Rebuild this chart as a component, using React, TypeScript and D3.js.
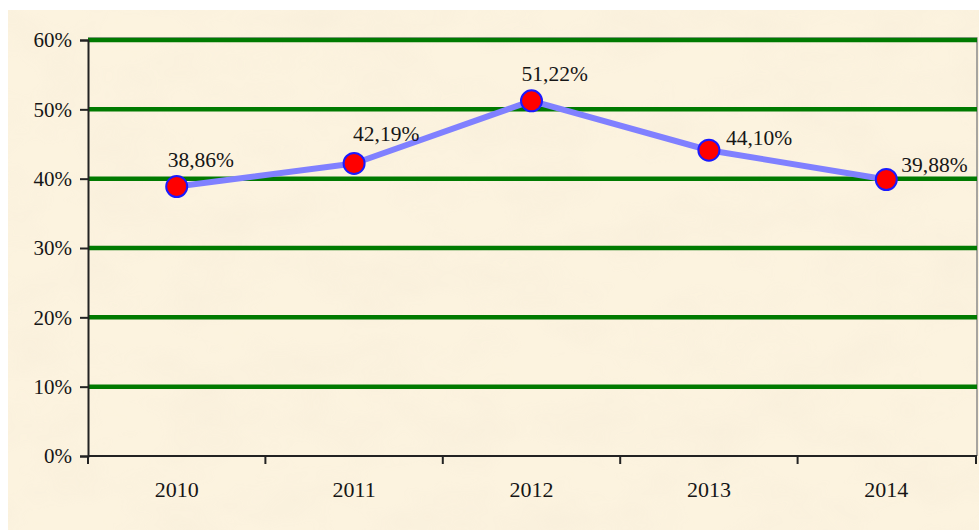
import React, { useRef, useEffect } from 'react';
import * as d3 from 'd3';

// chart data
const years = ['2010', '2011', '2012', '2013', '2014'];
const shares = [38.86, 42.19, 51.22, 44.10, 39.88];
const yTicks = [0, 10, 20, 30, 40, 50, 60];

// label placement relative to each marker (layout only)
const labelOffsets: [number, number][] = [
  [-9, -20],
  [-1, -22],
  [-10, -20],
  [17, -5],
  [15, -7],
];

const W = 979;
const H = 530;
const FONT = '"Liberation Serif", "Times New Roman", serif';

function App() {
  const svgRef = useRef<SVGSVGElement | null>(null);

  useEffect(() => {
    document.body.style.margin = '0';
    const root = d3.select(svgRef.current);
    root.selectAll('*').remove();

    const margin = { top: 40, right: 4, bottom: 74, left: 88 };
    const left = margin.left;
    const right = W - margin.right;
    const top = margin.top;
    const bottom = H - margin.bottom;

    const x = d3.scaleBand<string>().domain(years).range([left, right]).padding(0);
    const y = d3.scaleLinear().domain([0, 60]).range([bottom, top]);

    // parchment background
    const defs = root.append('defs');
    const filt = defs.append('filter').attr('id', 'paper')
      .attr('x', 0).attr('y', 0).attr('width', '100%').attr('height', '100%');
    filt.append('feTurbulence')
      .attr('type', 'fractalNoise')
      .attr('baseFrequency', '0.012 0.02')
      .attr('numOctaves', 3)
      .attr('seed', 7)
      .attr('result', 'noise');
    filt.append('feColorMatrix')
      .attr('in', 'noise')
      .attr('type', 'matrix')
      .attr('values', '0 0 0 0 0.93  0 0 0 0 0.85  0 0 0 0 0.70  0 0 0 -1.8 1.15');

    root.append('rect')
      .attr('x', 8).attr('y', 10)
      .attr('width', W - 8).attr('height', H - 10)
      .attr('fill', '#fcf3df');
    root.append('rect')
      .attr('x', 8).attr('y', 10)
      .attr('width', W - 8).attr('height', H - 10)
      .attr('filter', 'url(#paper)')
      .attr('opacity', 0.6);

    // plot border (top and right)
    root.append('path')
      .attr('d', `M${left},${top - 2}H${right + 2}V${bottom}`)
      .attr('fill', 'none')
      .attr('stroke', '#8a8a8a')
      .attr('stroke-width', 1.5);

    // gridlines
    root.append('g')
      .selectAll('line')
      .data(yTicks.filter(t => t > 0))
      .enter()
      .append('line')
      .attr('x1', left)
      .attr('x2', right + 2)
      .attr('y1', d => y(d))
      .attr('y2', d => y(d))
      .attr('stroke', '#007a00')
      .attr('stroke-width', 4.5);

    // y axis
    const yAxis = root.append('g')
      .attr('transform', `translate(${left},0)`)
      .call(d3.axisLeft(y).tickValues(yTicks).tickSize(8).tickPadding(8).tickFormat(d => `${d}%`));
    yAxis.select('.domain').attr('stroke', '#222').attr('stroke-width', 2);
    yAxis.selectAll('.tick line').attr('stroke', '#222').attr('stroke-width', 2);
    yAxis.selectAll('.tick text')
      .attr('fill', '#161616')
      .style('font-family', FONT)
      .style('font-size', '21px');

    // x axis, ticks at category boundaries
    const xAxisG = root.append('g');
    xAxisG.append('line')
      .attr('x1', left).attr('x2', right + 2)
      .attr('y1', bottom).attr('y2', bottom)
      .attr('stroke', '#222').attr('stroke-width', 2);
    const bounds = years.map(yr => x(yr) as number).concat([right + 1]);
    xAxisG.selectAll('.xtick')
      .data(bounds)
      .enter()
      .append('line')
      .attr('class', 'xtick')
      .attr('x1', d => d).attr('x2', d => d)
      .attr('y1', bottom).attr('y2', bottom + 8)
      .attr('stroke', '#222').attr('stroke-width', 2);
    xAxisG.selectAll('.xlabel')
      .data(years)
      .enter()
      .append('text')
      .attr('class', 'xlabel')
      .attr('x', d => (x(d) as number) + x.bandwidth() / 2)
      .attr('y', bottom + 41)
      .attr('text-anchor', 'middle')
      .attr('fill', '#161616')
      .style('font-family', FONT)
      .style('font-size', '22px')
      .text(d => d);

    const pts = years.map((yr, i) => ({
      yr,
      v: shares[i],
      cx: (x(yr) as number) + x.bandwidth() / 2,
      cy: y(shares[i]),
    }));

    // line
    const line = d3.line<typeof pts[0]>().x(d => d.cx).y(d => d.cy);
    root.append('path')
      .datum(pts)
      .attr('d', line)
      .attr('fill', 'none')
      .attr('stroke', '#8080ff')
      .attr('stroke-width', 6)
      .attr('stroke-linejoin', 'round');

    // markers
    root.append('g')
      .selectAll('circle')
      .data(pts)
      .enter()
      .append('circle')
      .attr('cx', d => d.cx)
      .attr('cy', d => d.cy)
      .attr('r', 10.5)
      .attr('fill', '#ff0000')
      .attr('stroke', '#1a1aff')
      .attr('stroke-width', 2);

    // data labels
    root.append('g')
      .selectAll('text')
      .data(pts)
      .enter()
      .append('text')
      .attr('x', (d, i) => d.cx + labelOffsets[i][0])
      .attr('y', (d, i) => d.cy + labelOffsets[i][1])
      .attr('fill', '#161616')
      .style('font-family', FONT)
      .style('font-size', '21.5px')
      .text(d => `${d.v.toFixed(2).replace('.', ',')}%`);
  }, []);

  return (
    <svg ref={svgRef} width={W} height={H} style={{ display: 'block', background: '#ffffff' }} />
  );
}

export default App;
